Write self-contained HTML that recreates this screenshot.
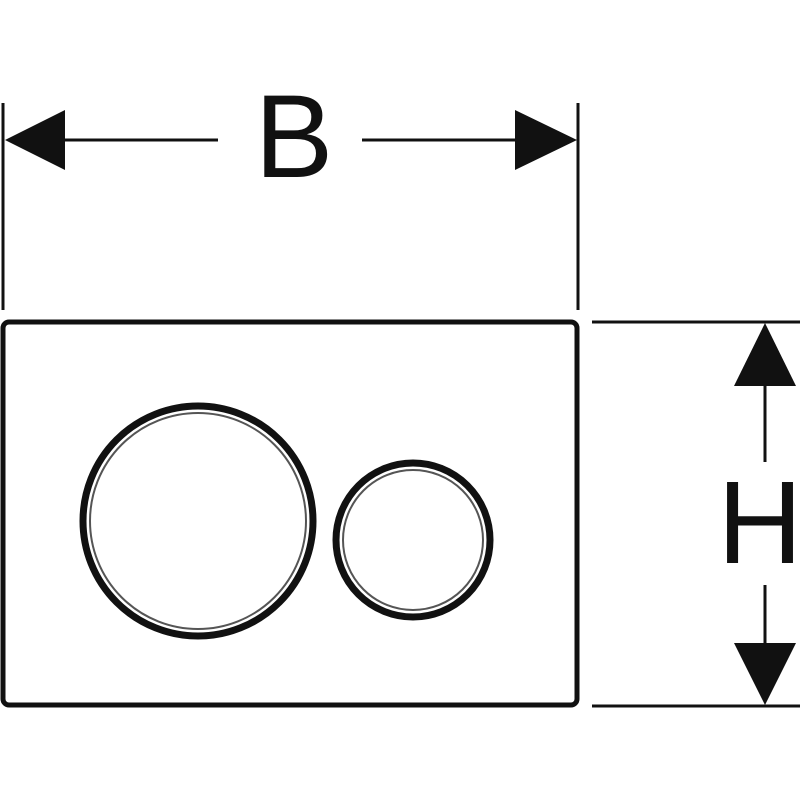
<!DOCTYPE html>
<html><head><style>html,body{margin:0;padding:0;background:#fff;width:800px;height:800px;overflow:hidden}</style></head>
<body>
<svg width="800" height="800" viewBox="0 0 800 800" xmlns="http://www.w3.org/2000/svg">
<rect width="800" height="800" fill="#fff"/>
<g stroke="#111" fill="none">
<line x1="3" y1="103" x2="3" y2="310" stroke-width="3"/>
<line x1="578" y1="103" x2="578" y2="310" stroke-width="3"/>
<line x1="60" y1="140" x2="218" y2="140" stroke-width="3"/>
<line x1="362" y1="140" x2="520" y2="140" stroke-width="3"/>
<rect x="3" y="322" width="574" height="383" rx="6" stroke-width="5"/>
<line x1="592" y1="322" x2="800" y2="322" stroke-width="3"/>
<line x1="592" y1="706" x2="800" y2="706" stroke-width="3"/>
<line x1="765" y1="380" x2="765" y2="462" stroke-width="3"/>
<line x1="765" y1="585" x2="765" y2="648" stroke-width="3"/>
<circle cx="198" cy="521" r="115" stroke-width="7"/>
<circle cx="198" cy="521" r="108" stroke-width="2" stroke="#555"/>
<circle cx="413" cy="540" r="77" stroke-width="7"/>
<circle cx="413" cy="540" r="70" stroke-width="2" stroke="#555"/>
</g>
<g fill="#111">
<polygon points="5,140 65,110 65,170"/>
<polygon points="577,140 515,110 515,170"/>
<polygon points="765,323 734,386 796,386"/>
<polygon points="765,705 734,643 796,643"/>
</g>
<text x="294" y="177" font-family="Liberation Sans, sans-serif" font-size="118" text-anchor="middle" fill="#111">B</text>
<text x="760" y="563" font-family="Liberation Sans, sans-serif" font-size="118" text-anchor="middle" fill="#111">H</text>
</svg>
</body></html>
